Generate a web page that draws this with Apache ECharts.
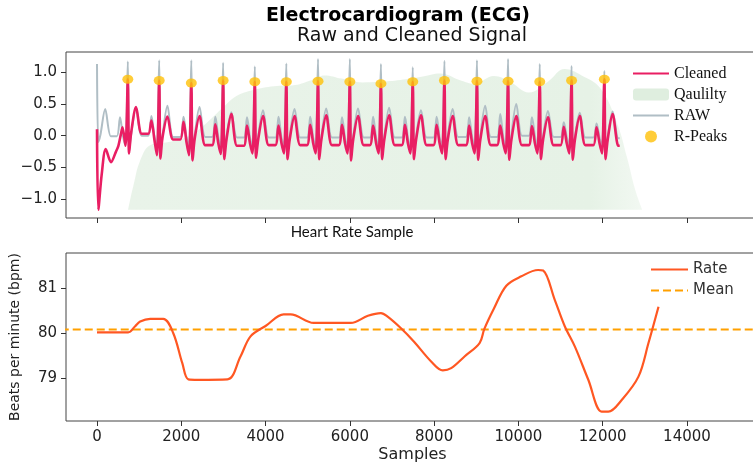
<!DOCTYPE html>
<html><head><meta charset="utf-8">
<script src="https://cdn.jsdelivr.net/npm/echarts@6/dist/echarts.min.js"></script>
<style>html,body{margin:0;padding:0;background:#fff}#c{width:753px;height:466px}</style>
</head><body><div id="c"></div>
<script>
// ---------- axis ticks ----------
const xTickValues = [0, 2000, 4000, 6000, 8000, 10000, 12000, 14000];
const ecgTickValues = [-1.0, -0.5, 0.0, 0.5, 1.0];
const rateTickValues = [79, 80, 81];

// ---------- ECG: R-peaks (cleaned) ----------
const rPeakSamples = [731, 1476, 2238, 2993, 3745, 4493, 5245, 6000, 6738, 7493, 8245, 9017, 9755, 10507, 11262, 12040];
const rPeakValues  = [0.89, 0.87, 0.83, 0.87, 0.85, 0.85, 0.86, 0.85, 0.82, 0.85, 0.87, 0.86, 0.86, 0.85, 0.87, 0.89];

// wave timing relative to each R-peak (samples)
const offTroughHold = -260, offP = -185, offPreQ = -115, offQ = -55, offS = 30, offPostS = 80, offT = 195, offTrough = 330;

// cleaned signal, per beat
const cleanedStart  = [[0, 0.10], [31, -1.17], [110, -0.62], [207, -0.21], [333, -0.42], [445, -0.26], [507, -0.16], [560, 0.0], [605, 0.13]];
const cleanedP      = [0.13, 0.24, 0.22, 0.18, 0.16, 0.16, 0.17, 0.17, 0.16, 0.17, 0.17, 0.16, 0.16, 0.15, 0.14, 0.13];
const cleanedPreQ   = [0.05, -0.06, -0.10, -0.12, -0.12, -0.12, -0.12, -0.12, -0.12, -0.12, -0.12, -0.12, -0.12, -0.12, -0.12, -0.12];
const cleanedQ      = [-0.16, -0.31, -0.31, -0.29, -0.28, -0.28, -0.28, -0.28, -0.28, -0.28, -0.28, -0.28, -0.28, -0.28, -0.28, -0.28];
const cleanedS      = [-0.28, -0.36, -0.39, -0.37, -0.35, -0.37, -0.37, -0.39, -0.37, -0.37, -0.37, -0.38, -0.38, -0.37, -0.38, -0.37];
const cleanedPostS  = [0.05, -0.02, -0.05, -0.06, -0.06, -0.06, -0.06, -0.06, -0.06, -0.06, -0.06, -0.06, -0.06, -0.06, -0.06, -0.06];
const cleanedT      = [0.45, 0.30, 0.31, 0.34, 0.31, 0.31, 0.32, 0.31, 0.32, 0.32, 0.31, 0.31, 0.31, 0.29, 0.31, 0.34];
const cleanedTrough = [0.03, -0.06, -0.15, -0.16, -0.15, -0.15, -0.15, -0.15, -0.15, -0.15, -0.15, -0.15, -0.15, -0.15, -0.15, -0.16];
const signalEndSample = 12405;

// raw signal, per spike (first spike at sample 0)
const rawSpikeSamples = [0, 731, 1476, 2238, 2993, 3745, 4493, 5245, 6000, 6738, 7493, 8245, 9017, 9755, 10507, 11262, 12040];
const rawR      = [1.13, 1.17, 1.19, 1.19, 1.15, 1.09, 1.14, 1.21, 1.21, 1.13, 1.08, 1.18, 1.19, 1.21, 1.13, 1.10, 1.02];
const rawP      = [null, 0.29, 0.31, 0.30, 0.30, 0.29, 0.30, 0.30, 0.29, 0.30, 0.30, 0.30, 0.29, 0.34, 0.29, 0.21, 0.19];
const rawQ      = [null, -0.15, -0.18, -0.18, -0.18, -0.18, -0.18, -0.18, -0.18, -0.18, -0.18, -0.18, -0.18, -0.18, -0.18, -0.18, -0.18];
const rawS      = [-0.10, -0.25, -0.32, -0.33, -0.32, -0.31, -0.32, -0.32, -0.33, -0.32, -0.32, -0.32, -0.33, -0.33, -0.32, -0.33, -0.32];
const rawT      = [0.42, 0.44, 0.47, 0.45, 0.37, 0.40, 0.42, 0.43, 0.43, 0.44, 0.40, 0.42, 0.47, 0.50, 0.39, 0.36, 0.38];
const rawTrough = [-0.01, 0.00, -0.02, -0.02, -0.03, -0.03, -0.03, -0.03, -0.03, -0.03, -0.03, -0.02, -0.02, 0.00, -0.02, -0.03, -0.04];

// signal quality (scaled to the cleaned range)
const qualitySamples = [736, 790, 860, 1020, 1260, 1700, 2200, 2600, 3000, 3300, 3700, 4200, 4700, 5100, 5400, 5800, 6300, 6700, 7200, 7700, 8150, 8600, 8950, 9420, 9800, 10250, 10700, 11100, 11500, 11940, 12340, 12580, 12770, 12940];
const qualityValues  = [-1.17, -1.0, -0.8, -0.4, -0.15, -0.1, 0.0, 0.2, 0.45, 0.62, 0.72, 0.78, 0.8, 0.88, 0.95, 0.9, 0.84, 0.85, 0.88, 0.93, 0.98, 0.88, 0.82, 0.94, 0.85, 0.68, 0.85, 1.05, 0.95, 0.75, 0.2, -0.35, -0.85, -1.17];
const qualityFloor = -1.17;

// ---------- Heart rate ----------
const rateSamples = [0, 740, 900, 1024, 1262, 1571, 1810, 2024, 2167, 2400, 3095, 3405, 3643, 4000, 4429, 4595, 5143, 6024, 6429, 6738, 6897, 7214, 7524, 7929, 8206, 8405, 8722, 9079, 9190, 9420, 9714, 10071, 10468, 10587, 10865, 11103, 11341, 11659, 11976, 12135, 12452, 12849, 13087, 13325];
const rateValues  = [80.02, 80.02, 80.15, 80.26, 80.32, 80.32, 80.0, 79.33, 78.97, 78.96, 78.97, 79.48, 79.93, 80.16, 80.42, 80.42, 80.23, 80.23, 80.39, 80.45, 80.37, 80.11, 79.81, 79.37, 79.17, 79.22, 79.48, 79.78, 80.09, 80.55, 81.06, 81.27, 81.41, 81.40, 80.74, 80.15, 79.70, 78.96, 78.25, 78.25, 78.51, 79.03, 79.78, 80.59];
const rateMean = 80.08;

// ---------- build series data ----------
const cleaned = cleanedStart.slice();
rPeakSamples.forEach((r, i) => {
  const pts = [];
  if (i > 0) { pts.push([r + offTroughHold, cleanedTrough[i - 1]], [r + offP, cleanedP[i]], [r + offPreQ, cleanedPreQ[i]]); }
  pts.push([r + offQ, cleanedQ[i]], [r, rPeakValues[i]], [r + offS, cleanedS[i]], [r + offPostS, cleanedPostS[i]], [r + offT, cleanedT[i]], [r + offTrough, cleanedTrough[i]]);
  pts.forEach(p => { if (p[0] > cleaned[cleaned.length - 1][0]) cleaned.push(p); });
});
cleaned.push([signalEndSample, cleanedTrough[cleanedTrough.length - 1]]);

const raw = [];
rawSpikeSamples.forEach((r, i) => {
  if (i > 0) { raw.push([r + offTroughHold, rawTrough[i - 1]], [r + offP, rawP[i]], [r + offPreQ, rawTrough[i - 1]], [r + offQ, rawQ[i]]); }
  raw.push([r, rawR[i]], [r + offS, rawS[i]], [r + offPostS, rawTrough[i] + 0.02], [r + offT, rawT[i]], [r + offTrough, rawTrough[i]]);
});
raw.push([signalEndSample, rawTrough[rawTrough.length - 1]]);

const peaks = rPeakSamples.map((s, i) => [s, rPeakValues[i]]);
const quality = qualitySamples.map((s, i) => [s, qualityValues[i]]);
const rate = rateSamples.map((s, i) => [s, rateValues[i]]);
const meanLine = [[rateSamples[0] - 2000, rateMean], [rateSamples[rateSamples.length - 1] + 4000, rateMean]];

// ---------- chart ----------
const FONT = '"DejaVu Sans", sans-serif';
const X_MIN = -736, X_MAX = 15710;
const tickStyle = {show: true, inside: false, length: 5, lineStyle: {color: '#333', width: 1}};
const noLine = {show: false, onZero: false};
const hideSym = {opacity: 0};

const chart = echarts.init(document.getElementById('c'), null, {renderer: 'canvas'});
chart.setOption({
  animation: false,
  backgroundColor: '#ffffff',
  grid: [
    {left: 66, width: 693, top: 52, height: 166, outerBoundsMode: 'none', containLabel: false,
     show: true, borderColor: '#444', borderWidth: 1, backgroundColor: 'rgba(0,0,0,0)'},
    {left: 66, width: 693, top: 253, height: 168, outerBoundsMode: 'none', containLabel: false,
     show: true, borderColor: '#444', borderWidth: 1, backgroundColor: 'rgba(0,0,0,0)'}
  ],
  xAxis: [
    {type: 'value', gridIndex: 0, min: X_MIN, max: X_MAX,
     axisLine: noLine, splitLine: {show: false},
     axisTick: Object.assign({customValues: xTickValues}, tickStyle),
     axisLabel: {show: false, customValues: xTickValues}},
    {type: 'value', gridIndex: 1, min: X_MIN, max: X_MAX,
     axisLine: noLine, splitLine: {show: false},
     axisTick: Object.assign({customValues: xTickValues}, tickStyle),
     axisLabel: {show: true, customValues: xTickValues, margin: 9, fontSize: 15, color: '#222', fontFamily: FONT,
       formatter: v => String(v)},
     name: 'Samples', nameLocation: 'middle', nameGap: 26,
     nameTextStyle: {fontSize: 16, color: '#222', fontFamily: FONT}}
  ],
  yAxis: [
    {type: 'value', gridIndex: 0, min: -1.30, max: 1.32,
     axisLine: noLine, splitLine: {show: false},
     axisTick: Object.assign({customValues: ecgTickValues}, tickStyle),
     axisLabel: {show: true, customValues: ecgTickValues, margin: 9, fontSize: 15, color: '#222', fontFamily: FONT,
       formatter: v => v.toFixed(1).replace('-', '\u2212')}},
    {type: 'value', gridIndex: 1, min: 78.04, max: 81.79,
     axisLine: noLine, splitLine: {show: false},
     axisTick: Object.assign({customValues: rateTickValues}, tickStyle),
     axisLabel: {show: true, customValues: rateTickValues, margin: 9, fontSize: 15, color: '#222', fontFamily: FONT,
       formatter: v => String(Math.round(v))},
     name: 'Beats per minute (bpm)', nameLocation: 'middle', nameGap: 44, nameRotate: 90,
     nameTextStyle: {fontSize: 14, color: '#222', fontFamily: FONT}}
  ],
  legend: [
    {orient: 'vertical', left: 627, top: 60, itemWidth: 36, itemHeight: 12, itemGap: 4,
     textStyle: {fontFamily: '"Liberation Serif", serif', fontSize: 16, color: '#111', lineHeight: 17},
     data: [
       {name: 'Cleaned', itemStyle: hideSym},
       {name: 'Qaulilty', icon: 'roundRect'},
       {name: 'RAW', itemStyle: hideSym},
       {name: 'R-Peaks', icon: 'circle'}
     ]},
    {orient: 'vertical', left: 642, top: 257, itemWidth: 37, itemHeight: 14, itemGap: 4,
     padding: [4, 8, 4, 8], backgroundColor: 'rgba(255,255,255,0.85)',
     textStyle: {fontFamily: FONT, fontSize: 15, color: '#333', lineHeight: 17},
     data: [{name: 'Rate', itemStyle: hideSym}, {name: 'Mean', itemStyle: hideSym}]}
  ],
  series: [
    {name: 'Qaulilty', type: 'line', xAxisIndex: 0, yAxisIndex: 0, data: quality, symbol: 'none', smooth: 0.4,
     itemStyle: {color: '#dfeedf'}, lineStyle: {width: 0, color: '#dfeedf'},
     areaStyle: {origin: qualityFloor, opacity: 1,
       color: {type: 'linear', x: 0, y: 0, x2: 1, y2: 0,
         colorStops: [{offset: 0, color: '#e9f3e9'}, {offset: 0.9, color: '#e6f2e6'}, {offset: 1, color: '#f2f8f2'}]}},
     z: 1},
    {name: 'RAW', type: 'line', xAxisIndex: 0, yAxisIndex: 0, data: raw, symbol: 'none', smooth: 0.3,
     itemStyle: {color: '#B0BEC5'}, lineStyle: {color: '#B0BEC5', width: 2}, z: 2},
    {name: 'Cleaned', type: 'line', xAxisIndex: 0, yAxisIndex: 0, data: cleaned, symbol: 'none', smooth: 0.3,
     itemStyle: {color: '#E91E63'}, lineStyle: {color: '#E91E63', width: 2.6}, z: 3},
    {name: 'R-Peaks', type: 'scatter', xAxisIndex: 0, yAxisIndex: 0, data: peaks, symbol: 'circle', symbolSize: [11, 9],
     itemStyle: {color: '#FFC107'}, z: 4},
    {name: 'Rate', type: 'line', xAxisIndex: 1, yAxisIndex: 1, data: rate, symbol: 'none', smooth: 0.35,
     itemStyle: {color: '#FF5722'}, lineStyle: {color: '#FF5722', width: 2.2}, z: 3},
    {name: 'Mean', type: 'line', xAxisIndex: 1, yAxisIndex: 1, data: meanLine, symbol: 'none',
     itemStyle: {color: '#FFA000'}, lineStyle: {color: '#FFA000', width: 2, type: [8, 4]}, z: 2}
  ],
  graphic: [
    {type: 'text', x: 398, y: 16, silent: true,
     style: {text: 'Electrocardiogram (ECG)', font: 'bold 19px "DejaVu Sans", sans-serif', fill: '#000', textAlign: 'center', textVerticalAlign: 'middle'}},
    {type: 'text', x: 412, y: 36, silent: true,
     style: {text: 'Raw and Cleaned Signal', font: '19px "DejaVu Sans", sans-serif', fill: '#111', textAlign: 'center', textVerticalAlign: 'middle'}},
    {type: 'text', x: 352, y: 232, silent: true,
     style: {text: 'Heart Rate Sample', font: '15px Lato, sans-serif', fill: '#111', textAlign: 'center', textVerticalAlign: 'middle'}}
  ]
});
</script>
</body></html>
